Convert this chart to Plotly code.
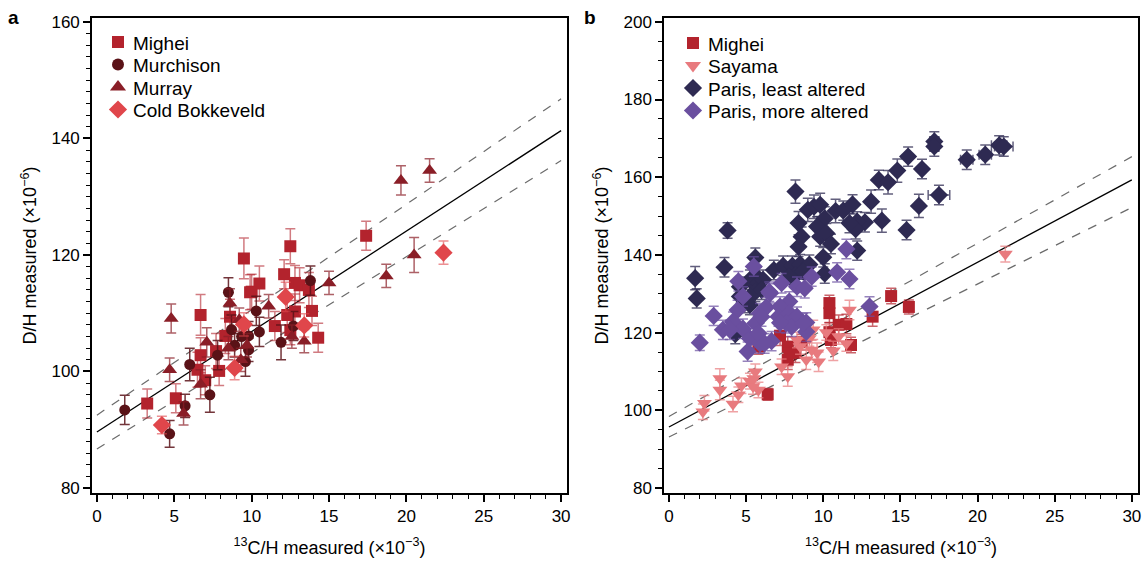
import numpy as np
import plotly.graph_objects as go

# ---- panel a data (13C/H x1e-3, D/H x1e-6, D/H error) ----
mighei_a_x = [3.25, 5.1, 6.7, 6.5, 7.0, 6.7, 7.9, 7.7, 8.3, 8.6, 9.5, 10.0, 10.5, 12.1, 11.5,
              12.5, 12.8, 13.1, 13.7, 13.9, 14.3, 12.3, 12.8, 12.5, 17.4, 9.9]
mighei_a_y = [94.5, 95.4, 109.7, 100.3, 98.5, 102.8, 100.1, 103.5, 106.1, 109.4, 119.4, 113.7, 115.1, 116.7, 107.8,
              121.5, 115.2, 114.8, 114.0, 110.4, 105.8, 109.7, 110.3, 107.1, 123.3, 113.6]
mighei_a_e = [2.5, 2.5, 3.5, 3, 2.5, 3, 2.5, 3, 3, 3, 3.5, 3, 3, 2.5, 2.5,
              3, 3, 3, 3, 2.5, 2.5, 3, 3, 2.5, 2.5, 3]

murch_x = [1.8, 4.7, 5.7, 6.0, 7.3, 7.8, 8.5, 8.7, 9.6, 10.3, 10.5, 11.9, 12.7, 13.8, 9.8, 8.9, 9.35, 9.8]
murch_y = [93.4, 89.3, 94.1, 101.2, 96.0, 102.8, 113.6, 107.2, 101.7, 110.4, 106.8, 105.0, 107.8, 115.6, 106.1, 104.5, 106.0, 103.7]
murch_e = [2.5, 2.3, 2, 2.8, 3, 2.5, 2.5, 2.5, 2.5, 2.5, 2.5, 3, 2.5, 2.5, 2.5, 2, 2, 2]

murray_x = [4.8, 4.7, 5.6, 6.7, 7.1, 8.6, 9.2, 9.3, 11.1, 12.6, 13.4, 15.0, 18.7, 19.65, 21.5, 20.5, 8.5, 9.7]
murray_y = [109.1, 100.3, 92.8, 97.8, 105.0, 111.7, 108.9, 102.0, 111.2, 106.0, 105.2, 115.2, 116.4, 132.8, 134.5, 120.0, 104.0, 104.5]
murray_e = [2.5, 2, 2, 2.5, 2.5, 2.5, 2, 2, 2, 2, 2, 2, 2, 2.5, 2, 3, 2, 2]

cold_x = [4.2, 8.9, 9.5, 12.2, 13.4, 22.4]
cold_y = [90.8, 100.6, 108.1, 112.8, 107.9, 120.4]
cold_e = [1.5, 2, 2, 2.5, 2, 2]

# ---- panel b data ----
mighei_b_x = [10.4, 10.4, 10.5, 11.0, 11.5, 11.8, 13.2, 14.4, 15.55, 7.7, 7.7, 8.2, 7.2, 6.4, 5.8, 7.8, 10.4, 8.6]
mighei_b_y = [125.0, 120.1, 118.1, 122.0, 122.2, 116.8, 124.1, 129.4, 126.6, 116.4, 113.0, 114.8, 119.2, 104.1, 116.4, 114.7, 127.6, 117.5]
mighei_b_e = [2.5, 2.5, 2, 2.5, 2.5, 2, 2.5, 2, 1.8, 2.5, 2.5, 2.5, 2.5, 1.5, 2, 2, 2, 2]

sayama_x = [2.2, 2.3, 3.3, 3.3, 4.15, 4.5, 4.7, 5.25, 5.5, 5.6, 5.8, 5.45, 7.7, 8.9, 9.7, 9.6, 9.25, 8.5,
            9.35, 11.7, 10.65, 9.1, 8.3, 7.3, 11.5, 21.8, 10.2, 11.0]
sayama_y = [99.6, 101.8, 108.2, 105.2, 101.6, 104.0, 106.3, 107.5, 108.2, 109.9, 105.2, 106.1, 108.7, 113.0, 112.5, 114.8, 115.5, 116.4,
            120.7, 125.8, 115.3, 118.5, 118.1, 111.2, 117.2, 140.2, 120.0, 119.0]
sayama_e = [2, 2, 2.5, 2.5, 2, 2, 2, 2, 2, 2, 2, 2, 2.5, 2.5, 2.5, 2.5, 2.5, 2,
            2.5, 2.5, 2.5, 2, 2, 2, 2, 2, 2, 2]

paris_l_x = [1.7, 1.8, 3.6, 3.8, 8.2, 8.4, 8.6, 9.0, 9.4, 9.8, 10.1, 9.6, 9.8, 10.2, 10.5, 10.0, 10.1, 10.8, 11.3, 11.9,
             8.4, 6.8, 7.4, 8.0, 8.5, 9.1, 8.2, 8.7, 5.6, 5.7, 15.5, 16.4, 14.8, 13.6, 14.2, 13.1,
             16.2, 13.8, 15.4, 12.7, 12.2, 12.1, 11.7, 12.2, 7.8, 5.25, 5.8, 6.1, 5.6, 6.0, 5.25, 4.6, 4.9, 4.6, 4.3, 5.25]
paris_l_y = [134.0, 128.8, 136.8, 146.3, 156.3, 148.2, 144.7, 151.6, 152.4, 152.9, 149.4, 147.3, 144.7, 145.6, 142.8, 139.4, 135.2, 151.3, 151.4, 153.0,
             142.1, 136.1, 137.2, 137.2, 137.6, 137.5, 134.8, 135.7, 139.3, 134.4, 165.3, 162.1, 161.7, 159.3, 158.7, 153.7,
             152.6, 148.8, 146.4, 148.4, 148.6, 146.6, 148.2, 141.1, 134.4, 133.6, 132.7, 133.6, 130.5, 131.0, 129.3, 129.3, 127.6, 131.8, 119.6, 127.1]
paris_l_e = [3, 2.5, 2.5, 2, 3, 3, 2.5, 3, 3, 3, 3, 2.5, 2.5, 2.5, 2.5, 2.5, 2.5, 3, 2.5, 2.5,
             2.5, 2.5, 2.5, 2.5, 2.5, 2.5, 2, 2, 2.5, 2.5, 2.5, 2.5, 3, 2.5, 3, 3,
             3, 3, 2.5, 2.5, 2.5, 2.5, 2.5, 2.5, 2, 2.5, 2.5, 2.5, 2.5, 2.5, 2.5, 2.5, 2.5, 2.5, 2.5, 2.5]
# Paris least altered points that also carry a 13C/H error
paris_lx_x = [17.2, 17.2, 17.5, 19.3, 20.5, 21.4, 21.7]
paris_lx_y = [169.2, 167.9, 155.4, 164.5, 165.8, 168.2, 167.9]
paris_lx_e = [2.5, 2.5, 2.5, 2.5, 2.5, 2.5, 2.5]
paris_lx_ex = [0.3, 0.3, 0.7, 0.4, 0.4, 0.5, 0.6]

paris_m_x = [2.0, 2.9, 3.5, 4.5, 5.5, 5.1, 6.5, 4.45, 4.15, 4.8, 5.25, 5.9, 6.3, 7.8, 8.3, 8.0, 8.9, 8.9, 10.9, 9.25,
             7.2, 4.8, 5.9, 6.65, 3.95, 5.6, 5.8, 6.2, 7.1, 7.3, 6.55, 8.8, 7.8, 8.3, 7.6, 7.95, 8.7, 11.7, 11.5, 13.0, 7.2, 6.0]
paris_m_y = [117.4, 124.3, 120.7, 133.2, 137.0, 115.1, 130.5, 125.8, 122.8, 121.0, 118.5, 125.0, 126.5, 128.0, 131.8, 123.3, 122.6, 120.2, 135.5, 134.4,
             126.7, 129.3, 117.2, 117.8, 120.7, 122.4, 119.8, 117.2, 124.1, 132.7, 130.1, 131.4, 125.0, 124.1, 122.4, 121.5, 122.4, 133.8, 141.5, 126.7, 122.5, 124.1]
paris_m_e = [2] + [2.5] * 41

# fitted lines: [intercept, slope]
fit_a = [89.6, 1.725]
upper_a = [92.5, 1.81]
lower_a = [86.7, 1.65]
fit_b = [95.7, 2.12]
upper_b = [98.4, 2.23]
lower_b = [93.1, 1.97]

# legend entries
legend_a_names = ["Mighei", "Murchison", "Murray", "Cold Bokkeveld"]
legend_a_colors = ["#b3232d", "#5a1217", "#8a1e27", "#e0464b"]
legend_a_symbols = ["square", "circle", "triangle-up", "diamond"]
legend_b_names = ["Mighei", "Sayama", "Paris, least altered", "Paris, more altered"]
legend_b_colors = ["#b3232d", "#e87a7e", "#2e2a52", "#6a4f9f"]
legend_b_symbols = ["square", "triangle-down", "diamond", "diamond"]

FONT = "Liberation Sans, Arial, Helvetica, sans-serif"
W, H = 1148, 561

fig = go.Figure()


def pts(x, y, e, color, err_color, symbol, size, xa, ya, ex=None):
    tr = go.Scatter(
        x=x, y=y, mode="markers", showlegend=False, xaxis=xa, yaxis=ya,
        marker=dict(symbol=symbol, size=size, color=color, opacity=1, line=dict(width=0)),
        error_y=dict(type="data", array=e, visible=True, color=err_color, thickness=1.5, width=5),
    )
    if ex is not None:
        tr.error_x = dict(type="data", array=ex, visible=True, color=err_color, thickness=1.5, width=5)
    fig.add_trace(tr)


def fit_lines(fit, up, lo, xa, ya):
    xs = np.array([0, 30])
    for band in (up, lo):
        fig.add_trace(go.Scatter(x=xs, y=band[0] + band[1] * xs, mode="lines", showlegend=False,
                                 xaxis=xa, yaxis=ya, line=dict(color="#6b6b6b", width=1.2, dash="dash")))
    fig.add_trace(go.Scatter(x=xs, y=fit[0] + fit[1] * xs, mode="lines", showlegend=False, xaxis=xa, yaxis=ya,
                             line=dict(color="black", width=1.3)))


fit_lines(fit_a, upper_a, lower_a, "x", "y")
pts(mighei_a_x, mighei_a_y, mighei_a_e, "#b3232d", "rgba(179,35,45,0.6)", "square", 12, "x", "y")
pts(murch_x, murch_y, murch_e, "#5a1217", "rgba(90,18,23,0.85)", "circle", 11, "x", "y")
pts(murray_x, murray_y, murray_e, "#8a1e27", "rgba(138,30,39,0.7)", "triangle-up", 13, "x", "y")
pts(cold_x, cold_y, cold_e, "#e0464b", "rgba(224,70,75,0.6)", "diamond", 14, "x", "y")

fit_lines(fit_b, upper_b, lower_b, "x2", "y2")
pts(mighei_b_x, mighei_b_y, mighei_b_e, "#b3232d", "rgba(179,35,45,0.7)", "square", 12, "x2", "y2")
pts(sayama_x, sayama_y, sayama_e, "#e87a7e", "rgba(232,122,126,0.7)", "triangle-down", 13, "x2", "y2")
pts(paris_l_x, paris_l_y, paris_l_e, "#2e2a52", "rgba(46,42,82,0.75)", "diamond", 14, "x2", "y2")
pts(paris_lx_x, paris_lx_y, paris_lx_e, "#2e2a52", "rgba(46,42,82,0.75)", "diamond", 14, "x2", "y2", ex=paris_lx_ex)
pts(paris_m_x, paris_m_y, paris_m_e, "#6a4f9f", "rgba(106,79,159,0.7)", "diamond", 14, "x2", "y2")

# legends drawn on a hidden full-page axis measured in pixels
annotations = []
for names, colors, symbols, mx, my0 in ((legend_a_names, legend_a_colors, legend_a_symbols, 118, 42),
                                        (legend_b_names, legend_b_colors, legend_b_symbols, 693, 43)):
    ys = [my0 + 22.5 * i for i in range(len(names))]
    sizes = [12 if s in ("square", "circle") else 14 for s in symbols]
    fig.add_trace(go.Scatter(x=[mx] * len(names), y=ys, mode="markers", showlegend=False, xaxis="x3", yaxis="y3",
                             hoverinfo="skip",
                             marker=dict(symbol=symbols, color=colors, size=sizes, opacity=1, line=dict(width=0))))
    for n, yy in zip(names, ys):
        annotations.append(dict(text=n, x=mx + 13, y=yy + 1, xref="x3", yref="y3", showarrow=False,
                                xanchor="left", yanchor="middle", font=dict(size=19)))

annotations += [
    dict(text="<b>a</b>", x=0.012, y=0.968, xref="paper", yref="paper", showarrow=False,
         font=dict(size=19), xanchor="center", yanchor="middle"),
    dict(text="<b>b</b>", x=0.514, y=0.968, xref="paper", yref="paper", showarrow=False,
         font=dict(size=19), xanchor="center", yanchor="middle"),
]

axis_common = dict(
    showgrid=False, zeroline=False, showline=True, linecolor="black", linewidth=1.5, mirror=True,
    ticks="outside", ticklen=7, tickwidth=1.5, tickcolor="black",
    tickfont=dict(size=17, color="black", family=FONT), automargin=False,
)
x_title = "<sup>13</sup>C/H measured (×10<sup>−3</sup>)"
y_title = "D/H measured (×10<sup>−6</sup>)"

fig.update_layout(
    width=W, height=H,
    margin=dict(l=0, r=0, t=0, b=0),
    paper_bgcolor="white", plot_bgcolor="rgba(0,0,0,0)",
    font=dict(family=FONT, size=17, color="black"),
    hovermode=False,
    xaxis=dict(axis_common, domain=[0.0801, 0.4939], range=[-0.32, 30.38], dtick=5,
               minor=dict(dtick=1, ticks="outside", ticklen=4, tickwidth=1.2, tickcolor="black"),
               title=dict(text=x_title, standoff=16, font=dict(size=18))),
    yaxis=dict(axis_common, domain=[0.1212, 0.968], range=[79.14, 160.69], dtick=20,
               minor=dict(dtick=2, ticks="outside", ticklen=4, tickwidth=1.2, tickcolor="black"),
               title=dict(text=y_title, standoff=10, font=dict(size=18))),
    xaxis2=dict(axis_common, domain=[0.5784, 0.9913], range=[-0.32, 30.4], dtick=5, anchor="y2",
                minor=dict(dtick=1, ticks="outside", ticklen=4, tickwidth=1.2, tickcolor="black"),
                title=dict(text=x_title, standoff=16, font=dict(size=18))),
    yaxis2=dict(axis_common, domain=[0.1212, 0.968], range=[78.7, 201.0], dtick=20, anchor="x2",
                minor=dict(dtick=5, ticks="outside", ticklen=4, tickwidth=1.2, tickcolor="black"),
                title=dict(text=y_title, standoff=10, font=dict(size=18))),
    xaxis3=dict(domain=[0, 1], range=[0, W], visible=False, anchor="y3", fixedrange=True),
    yaxis3=dict(domain=[0, 1], range=[H, 0], visible=False, anchor="x3", fixedrange=True),
    annotations=annotations,
)

fig.write_html("out.html", post_script="document.body.style.margin='0';",
               config={"displayModeBar": False})
